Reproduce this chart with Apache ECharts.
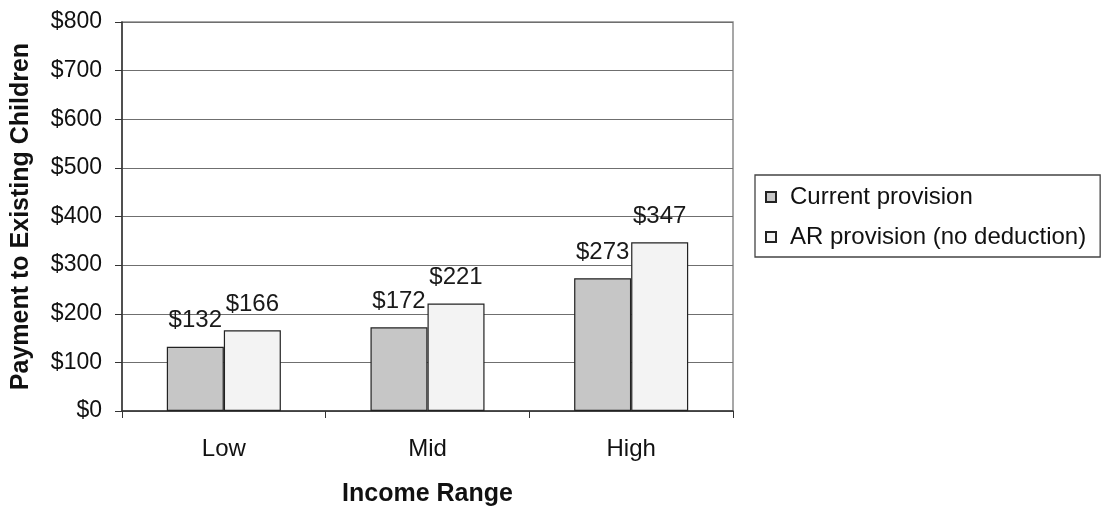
<!DOCTYPE html>
<html>
<head>
<meta charset="utf-8">
<script src="https://cdn.jsdelivr.net/npm/echarts@6/dist/echarts.min.js"></script>
<style>
  html, body { margin: 0; padding: 0; background: #ffffff; }
  #chart { width: 1103px; height: 508px; }
</style>
</head>
<body>
<div id="chart"></div>
<script>
// Income ranges along the x axis
const categories = ['Low', 'Mid', 'High'];
// Monthly payment to existing children, dollars
const currentProvision = [132, 172, 273];
const arProvision = [166, 221, 347];
// Y axis bounds and step
const yMin = 0;
const yMax = 800;
const yStep = 100;

const FONT = '"Liberation Sans", Arial, sans-serif';

const chart = echarts.init(document.getElementById('chart'), null, { renderer: 'canvas' });

const labelStyle = {
  show: true,
  position: 'top',
  distance: 14,
  color: '#1a1a1a',
  fontFamily: FONT,
  fontSize: 24,
  formatter: p => '$' + p.value
};

chart.setOption({
  animation: false,
  backgroundColor: '#ffffff',
  grid: {
    left: 122, right: 370, top: 22, bottom: 97,
    outerBoundsMode: 'none',
    containLabel: false,
    show: true,
    borderColor: '#8a8a8a',
    borderWidth: 1.5
  },
  legend: {
    orient: 'vertical',
    left: 755,
    top: 175,
    icon: 'rect',
    itemWidth: 10,
    itemHeight: 10,
    itemGap: 12,
    padding: [8, 14, 6, 10],
    borderColor: '#444',
    borderWidth: 1.3,
    textStyle: {
      fontFamily: FONT, fontSize: 24, color: '#111', lineHeight: 28,
      padding: [0, 0, 0, 9]
    },
    data: ['Current provision', 'AR provision (no deduction)']
  },
  xAxis: {
    type: 'category',
    data: categories,
    name: 'Income Range',
    nameLocation: 'middle',
    nameGap: 71,
    nameTextStyle: { fontFamily: FONT, fontSize: 25, fontWeight: 'bold', color: '#111' },
    axisLine: { lineStyle: { color: '#333', width: 1.5 } },
    axisTick: { show: true, alignWithLabel: false, length: 7, lineStyle: { color: '#333' } },
    axisLabel: { fontFamily: FONT, fontSize: 24, color: '#111', margin: 26 }
  },
  yAxis: {
    type: 'value',
    min: yMin,
    max: yMax,
    interval: yStep,
    name: 'Payment to Existing Children',
    nameLocation: 'middle',
    nameGap: 88,
    nameTextStyle: { fontFamily: FONT, fontSize: 25, fontWeight: 'bold', color: '#111' },
    axisLine: { show: true, lineStyle: { color: '#333', width: 1.5 } },
    axisTick: { show: true, length: 7, lineStyle: { color: '#333' } },
    axisLabel: { fontFamily: FONT, fontSize: 23, color: '#111', margin: 20, formatter: v => '$' + v },
    splitLine: { show: true, lineStyle: { color: '#6f6f6f', width: 1.2 } }
  },
  series: [
    {
      name: 'Current provision',
      type: 'bar',
      data: currentProvision,
      barCategoryGap: '44%',
      barGap: '0%',
      itemStyle: { color: '#c6c6c6', borderColor: '#222', borderWidth: 1.2 },
      label: labelStyle
    },
    {
      name: 'AR provision (no deduction)',
      type: 'bar',
      data: arProvision,
      barCategoryGap: '44%',
      barGap: '0%',
      itemStyle: { color: '#f3f3f3', borderColor: '#222', borderWidth: 1.2 },
      label: labelStyle
    }
  ]
});
</script>
</body>
</html>
